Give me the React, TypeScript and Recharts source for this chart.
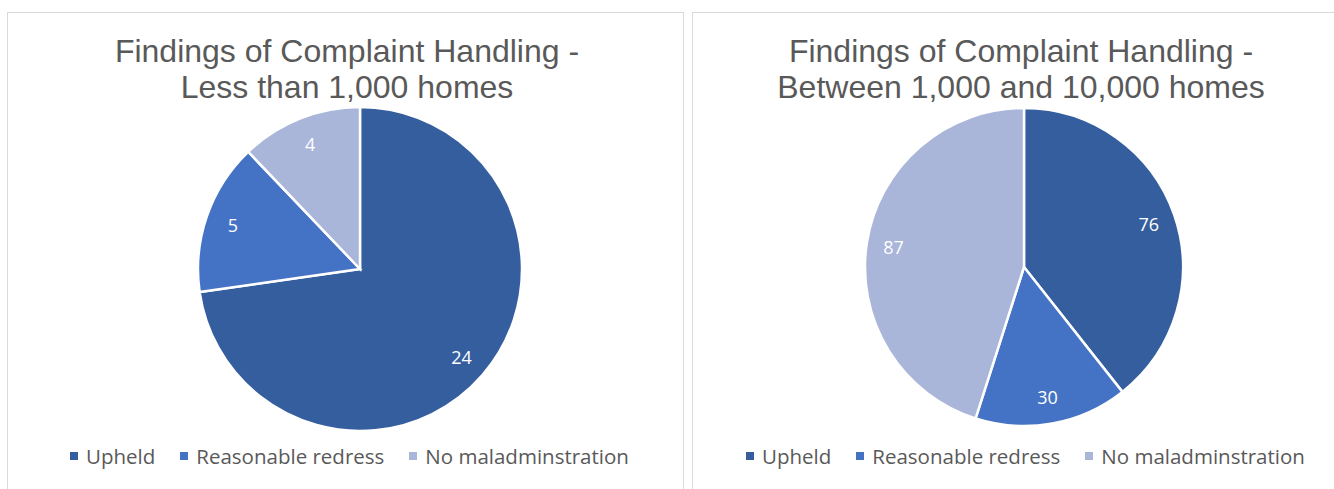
import { PieChart, Pie, Cell, Legend } from 'recharts';

const CATEGORIES = ['Upheld', 'Reasonable redress', 'No maladminstration'];
const SMALL_VALUES = [24, 5, 4];
const MID_VALUES = [76, 30, 87];
const COLORS = ['#355E9F', '#4472C4', '#A9B5D9'];

const RAD = Math.PI / 180;
const LEGEND_FONT = '"Open Sans", "Noto Sans", sans-serif';

function renderLabel(props: any) {
  const { cx, cy, midAngle, outerRadius, value } = props;
  const r = outerRadius * 0.83;
  const x = cx + r * Math.cos(-midAngle * RAD);
  const y = cy + r * Math.sin(-midAngle * RAD);
  return (
    <text x={x} y={y} fill="#ffffff" fontSize={18} fontFamily={LEGEND_FONT}
      textAnchor="middle" dominantBaseline="central">
      {value}
    </text>
  );
}

function LegendContent() {
  return (
    <div style={{ display: 'flex', alignItems: 'center', fontFamily: LEGEND_FONT, fontSize: 20.5, color: '#595959', whiteSpace: 'nowrap' }}>
      {CATEGORIES.map((c, i) => (
        <span key={c} style={{ display: 'flex', alignItems: 'center', marginRight: 25 }}>
          <span style={{ width: 8, height: 8, background: COLORS[i], display: 'inline-block', marginRight: 8 }} />
          {c}
        </span>
      ))}
    </div>
  );
}

interface PanelProps {
  title: string[];
  values: number[];
  left: number;
  width: number;
  cx: number;
  cy: number;
  radius: number;
  titleCenter: number;
  legendLeft: number;
}

function Panel({ title, values, left, width, cx, cy, radius, titleCenter, legendLeft }: PanelProps) {
  const data = CATEGORIES.map((name, i) => ({ name, value: values[i] }));
  return (
    <div style={{ position: 'absolute', left, top: 12, width, height: 490, border: '1px solid #D9D9D9', boxSizing: 'border-box', background: '#fff' }}>
      <div style={{ position: 'absolute', left: titleCenter - 300, top: 20, width: 600, textAlign: 'center', fontFamily: '"Liberation Sans", Arial, sans-serif', fontSize: 32, lineHeight: '36px', color: '#595959' }}>
        {title.map((t) => <div key={t}>{t}</div>)}
      </div>
      <PieChart width={width - 2} height={477} style={{ position: 'absolute', left: 0, top: 0 }}>
        <Pie
          data={data}
          dataKey="value"
          nameKey="name"
          cx={cx}
          cy={cy}
          outerRadius={radius}
          startAngle={90}
          endAngle={-270}
          stroke="#ffffff"
          strokeWidth={2.5}
          label={renderLabel}
          labelLine={false}
          isAnimationActive={false}
        >
          {data.map((d, i) => <Cell key={d.name} fill={COLORS[i]} />)}
        </Pie>
        <Legend content={LegendContent} wrapperStyle={{ left: legendLeft, top: 429, width: 'auto' }} />
      </PieChart>
    </div>
  );
}

export default function App() {
  return (
    <div style={{ position: 'absolute', left: 0, top: 0, width: 1334, height: 489, overflow: 'hidden', background: '#fff' }}>
      <Panel
        title={['Findings of Complaint Handling -', 'Less than 1,000 homes']}
        values={SMALL_VALUES}
        left={7}
        width={677}
        cx={347}
        cy={251}
        radius={162}
        titleCenter={339}
        legendLeft={62}
      />
      <Panel
        title={['Findings of Complaint Handling -', 'Between 1,000 and 10,000 homes']}
        values={MID_VALUES}
        left={692}
        width={660}
        cx={326}
        cy={249}
        radius={159}
        titleCenter={328}
        legendLeft={53}
      />
    </div>
  );
}
